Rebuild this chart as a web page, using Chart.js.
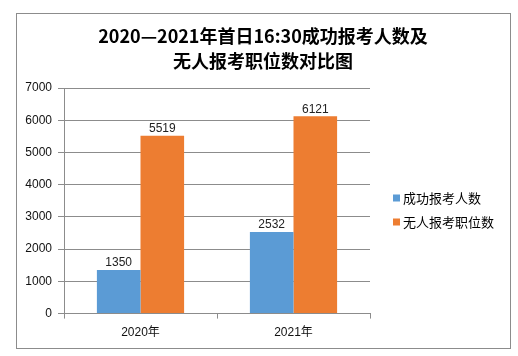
<!DOCTYPE html>
<html><head><meta charset="utf-8">
<script src="https://cdn.jsdelivr.net/npm/chart.js@4.4.1/dist/chart.umd.min.js"></script>
<style>html,body{margin:0;padding:0;background:#fff}#wrap{width:518px;height:356px;position:relative}</style>
</head><body><div id="wrap"><canvas id="c" width="518" height="356"></canvas></div>
<script>
const titleLines = ["2020—2021年首日16:30成功报考人数及", "无人报考职位数对比图"];
const categories = ["2020年", "2021年"];
const seriesNames = ["成功报考人数", "无人报考职位数"];
const appliedCounts = [1350, 2532];
const vacantPositions = [5519, 6121];
const yTicks = [0, 1000, 2000, 3000, 4000, 5000, 6000, 7000];
const colors = ["#5B9BD5", "#ED7D31"];

const FONT = '"Liberation Sans", "Noto Sans CJK SC", sans-serif';

const decor = {
  id: 'decor',
  afterDraw(chart) {
    const ctx = chart.ctx;
    ctx.save();
    ctx.strokeStyle = '#8c8c8c';
    ctx.lineWidth = 1;
    ctx.strokeRect(16.5, 13.5, 494, 335);
    ctx.fillStyle = '#000';
    ctx.textAlign = 'center';
    ctx.textBaseline = 'middle';
    ctx.font = 'bold 18px "Noto Sans CJK SC", "Liberation Sans", sans-serif';
    ctx.fillText(titleLines[0], 263, 36);
    ctx.fillText(titleLines[1], 263, 61);
    ctx.font = '12px ' + FONT;
    ctx.fillStyle = '#222';
    ctx.textBaseline = 'bottom';
    chart.data.datasets.forEach((ds, i) => {
      chart.getDatasetMeta(i).data.forEach((bar, j) => {
        ctx.fillText(String(ds.data[j]), bar.x, bar.y - 1);
      });
    });
    ctx.textAlign = 'left';
    ctx.textBaseline = 'middle';
    ctx.font = '13px "Noto Sans CJK SC", sans-serif';
    chart.data.datasets.forEach((ds, i) => {
      const y = 198 + i * 24;
      ctx.fillStyle = ds.backgroundColor;
      ctx.fillRect(393, y - 3.5, 7, 7);
      ctx.fillStyle = '#000';
      ctx.fillText(ds.label, 403, y);
    });
    ctx.restore();
  }
};

new Chart(document.getElementById('c'), {
  type: 'bar',
  data: {
    labels: categories,
    datasets: [
      { label: seriesNames[0], data: appliedCounts, backgroundColor: colors[0] },
      { label: seriesNames[1], data: vacantPositions, backgroundColor: colors[1] }
    ]
  },
  options: {
    responsive: false,
    animation: false,
    devicePixelRatio: 1,
    layout: { padding: { left: 16, top: 88, right: 148, bottom: 9 } },
    categoryPercentage: 0.57,
    barPercentage: 1.0,
    plugins: { legend: { display: false }, title: { display: false }, tooltip: { enabled: false } },
    scales: {
      x: {
        offset: true,
        grid: { display: true, drawOnChartArea: false, offset: true, tickLength: 5, color: '#8c8c8c' },
        border: { display: true, color: '#8c8c8c' },
        ticks: { padding: 7, color: '#111', font: { family: FONT, size: 12 } }
      },
      y: {
        min: 0, max: 7000,
        afterFit(scale) { scale.width = 48; },
        afterBuildTicks(scale) { scale.ticks = yTicks.map(v => ({ value: v })); },
        grid: { color: '#8c8c8c', tickLength: 6 },
        border: { display: true, color: '#8c8c8c' },
        ticks: { padding: 6, color: '#111', font: { family: FONT, size: 12 }, callback: (v) => String(v) }
      }
    }
  },
  plugins: [decor]
});
</script></body></html>
